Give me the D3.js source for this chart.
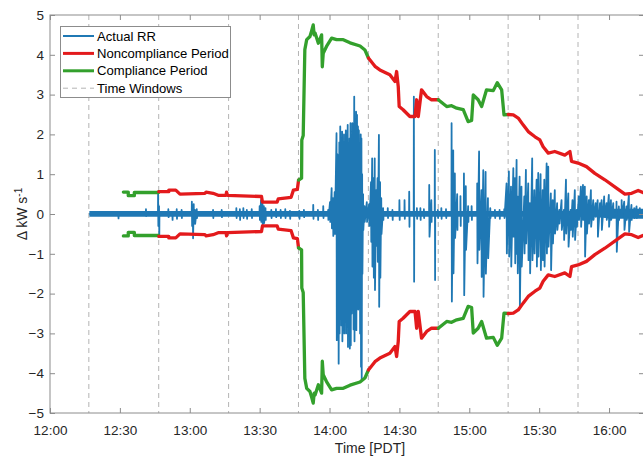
<!DOCTYPE html>
<html>
<head>
<meta charset="utf-8">
<script src="https://cdn.jsdelivr.net/npm/d3@7"></script>
<style>
  body { margin: 0; background: #fff; }
  text { font-family: "Liberation Sans", Arial, Helvetica, sans-serif; }
</style>
</head>
<body>
<svg id="chart" width="643" height="457"></svg>
<script>
// all times are minutes after 12:00 PDT

// time windows (30 min each) and whether the window was compliant
var windowStarts = [16.67, 46.67, 76.67, 106.67, 136.67, 166.67, 196.67, 226.67, 256.67];
var windowStatus = ["C", "N", "N", "C", "N", "C", "N", "N"];

// upper ramp-rate envelope [minute, kW/s]; lower envelope is its mirror
var upperEnvelope = [
  [31.5, 0.55], [33.6, 0.55], [33.6, 0.46], [36.2, 0.46], [36.2, 0.54], [46.6, 0.54],
  [46.7, 0.56], [51, 0.56], [51, 0.6], [54, 0.6], [55.8, 0.5], [66.5, 0.52], [67, 0.55],
  [70, 0.52], [72.2, 0.47], [75.6, 0.47], [75.8, 0.55], [76.2, 0.47], [90.8, 0.44],
  [91.2, 0.3], [97.5, 0.3], [98, 0.38], [103.5, 0.42], [104.5, 0.6], [106.2, 0.62],
  [106.7, 0.85], [108.0, 0.9], [108.1, 1.86], [108.7, 1.97], [109.4, 4.13], [110.2, 4.38],
  [111.6, 4.46], [112.3, 4.6], [113.0, 4.75], [113.4, 4.5], [113.8, 4.55], [115.2, 4.29],
  [116.6, 4.5], [116.9, 3.7], [117.3, 4.04], [118.7, 4.21], [120.9, 4.42], [123, 4.38],
  [125.9, 4.38], [128.8, 4.3], [133.1, 4.22], [135.2, 4.12], [136.7, 3.92], [139.5, 3.71],
  [141.6, 3.62], [145.9, 3.5], [148.1, 3.33], [148.8, 3.58], [149.5, 3.2], [149.9, 2.7],
  [151.6, 2.62], [154.5, 2.45], [156.7, 2.45], [157.4, 2.87], [158.1, 2.45], [159.5, 3.12],
  [161.7, 2.95], [163.8, 2.87], [166.7, 2.87], [170.3, 2.7], [172.4, 2.72], [174.6, 2.66],
  [177.4, 2.62], [179.5, 2.32], [181.0, 2.35], [181.7, 2.99], [183.8, 2.87], [185.3, 2.7],
  [187.4, 3.12], [190.3, 3.1], [192.0, 3.3], [193.9, 3.12], [194.9, 2.49], [196.7, 2.5],
  [198.9, 2.49], [201.0, 2.41], [203.1, 2.24], [205.3, 2.07], [208.2, 1.94], [210.3, 1.86],
  [211.7, 1.69], [213.9, 1.53], [216.7, 1.57], [221.0, 1.48], [223.2, 1.57], [223.9, 1.32],
  [226.7, 1.28], [230.3, 1.19], [233.9, 1.02], [238.2, 0.86], [243.2, 0.65], [246.8, 0.5],
  [249.7, 0.52], [252.5, 0.59], [254.5, 0.54]
];

// actual ramp rate: spikes [minute, high, low]
var rrSpikes = [
  [29.3, 0.05, -0.11], [41.2, 0.12, -0.05], [46.4, 0.53, -0.3], [46.8, 0.2, -0.55],
  [50.8, 0.12, -0.08], [52.5, 0.05, -0.15], [54.4, 0.12, -0.12], [56.5, 0.1, -0.1],
  [60.9, 0.31, -0.3], [61.3, 0.2, -0.61], [61.7, 0.25, -0.2], [62.2, 0.1, -0.25],
  [63.0, 0.12, -0.1], [70.0, 0.1, -0.1], [73.7, 0.1, -0.08], [80.0, 0.15, -0.1],
  [81.5, 0.12, -0.15], [83.0, 0.15, -0.1], [84.5, 0.1, -0.12], [86.6, 0.12, -0.1],
  [90.0, 0.2, -0.15], [90.6, 0.35, -0.2], [91.2, 0.27, -0.3], [91.8, 0.2, -0.23],
  [92.5, 0.15, -0.15], [95.0, 0.1, -0.1], [97.0, 0.12, -0.08], [99.0, 0.1, -0.1],
  [101.0, 0.12, -0.1], [103.0, 0.08, -0.12], [107.0, 0.08, -0.12], [109.0, 0.1, -0.08],
  [113.0, 0.23, -0.12], [115.0, 0.1, -0.15], [117.3, 0.2, -0.1], [119.4, 0.1, -0.15],
  [120.2, 0.3, -0.2], [120.9, 0.65, -0.36], [121.5, 0.4, -0.55], [122.2, 0.55, -0.5],
  [123.0, 2.03, -3.17], [123.4, 1.5, -2.5], [123.8, 1.36, -3.76], [124.2, 1.8, -3.0],
  [124.6, 2.2, -2.0], [125.0, 1.9, -2.8], [125.4, 2.07, -3.2], [125.8, 1.7, -2.4],
  [126.2, 2.0, -3.0], [126.6, 1.6, -2.6], [127.0, 2.1, -3.0], [127.4, 1.5, -2.2],
  [127.8, 2.24, -3.34], [128.2, 1.78, -2.8], [128.6, 1.9, -3.38], [129.0, 2.28, -3.3],
  [129.4, 1.6, -2.5], [129.8, 2.28, -2.42], [130.2, 1.9, -2.9], [130.6, 2.95, -3.2],
  [131.0, 2.0, -2.4], [131.4, 2.57, -2.92], [131.8, 2.49, -2.0], [132.2, 2.2, -2.4],
  [132.6, 2.1, -1.83], [133.0, 1.7, -3.0], [133.4, 2.0, -3.84], [133.7, 1.9, -4.18],
  [134.0, 1.0, -1.5], [134.4, 0.5, -0.4], [135.0, 0.2, -0.2], [136.0, 0.3, -0.2],
  [137.0, 0.25, -0.3], [137.8, 0.8, -0.7], [138.3, 1.4, -1.32], [138.9, 0.9, -1.6],
  [139.4, 1.4, -1.91], [140.0, 0.6, -0.8], [140.6, 0.9, -1.2], [141.2, 1.99, -2.33],
  [141.7, 0.8, -1.6], [142.2, 0.4, -0.5], [143.0, 0.15, -0.15], [145.0, 0.15, -0.1],
  [147.0, 0.1, -0.15], [150.0, 0.35, -0.15], [152.2, 0.35, -0.12], [154.2, 0.56, -0.32],
  [156.2, 2.95, -1.7], [157.5, 0.15, -0.12], [159.0, 0.15, -0.15], [160.5, 0.12, -0.1],
  [162.8, 0.73, -0.57], [163.7, 0.35, -0.2], [165.2, 1.61, -1.66], [166.5, 0.1, -0.1],
  [168.0, 0.15, -0.12], [170.0, 0.12, -0.1], [172.4, 2.28, -2.2], [173.1, 1.6, -1.49],
  [173.8, 1.02, -0.6], [174.8, 0.5, -0.4], [176.2, 0.45, -0.3], [177.7, 1.02, -2.04],
  [178.5, 0.7, -0.9], [179.5, 0.2, -0.2], [181.0, 0.2, -0.15], [183.4, 0.77, -1.24],
  [184.2, 1.57, -0.9], [185.2, 0.6, -1.58], [186.0, 1.1, -2.08], [187.0, 1.06, -1.5],
  [188.0, 0.4, -1.11], [189.0, 0.15, -0.1], [191.0, 0.1, -0.1], [193.0, 0.1, -0.12],
  [195.0, 0.12, -0.1],
  [196.0, 0.77, -0.99], [197.0, 1.07, -1.07], [197.9, 0.69, -1.32], [198.9, 1.15, -0.57],
  [199.6, 0.9, -1.24], [200.3, 1.36, -1.0], [200.7, 0.44, -1.49], [201.6, 0.94, -2.37],
  [202.4, 0.69, -1.32], [203.6, 0.44, -0.99], [204.3, 1.11, -0.74], [205.3, 0.77, -1.16],
  [206.0, 0.27, -1.49], [207.0, 1.4, -1.16], [207.9, 0.6, -0.99], [208.9, 0.86, -1.32],
  [209.6, 1.03, -1.07], [210.6, 1.0, -1.41], [211.5, 0.6, -1.16], [212.2, 0.86, -1.32],
  [213.2, 1.27, -0.99], [213.9, 1.19, -0.82], [215.0, 0.52, -1.41], [215.8, 0.35, -0.74],
  [216.7, 0.6, -0.49], [217.7, 0.27, -0.4], [218.6, 0.1, -0.24], [219.6, 0.35, -0.4],
  [220.6, 0.1, -0.65], [221.5, 0.86, -0.49], [222.5, 0.52, -0.82], [223.5, 0.1, -0.4],
  [224.3, 0.35, -0.57], [225.3, 0.6, -0.65], [226.1, 0.1, -0.32], [227.0, 0.44, -0.15],
  [227.9, 0.69, -0.32], [228.8, 0.73, -0.15], [229.6, 0.69, -1.07], [230.4, 0.44, -0.49],
  [231.3, 0.35, -0.24], [232.2, 0.6, -0.32], [233.2, 0.35, -0.15], [234.2, 0.27, -0.07],
  [235.1, 0.35, -0.57], [236.1, 0.27, -0.07], [236.8, 0.35, -0.4], [237.9, 0.44, -0.07],
  [238.9, 0.27, -0.15], [239.9, 0.48, -0.32], [240.8, 0.35, -0.15], [241.8, 0.27, -0.07],
  [243.2, 0.31, -0.95], [244.2, 0.19, -0.15], [245.4, 0.35, -0.07], [246.5, 0.31, -0.4],
  [247.5, 0.19, -0.15], [248.5, 0.48, -0.45], [249.6, 0.23, -0.15], [250.8, 0.15, -0.1],
  [251.8, 0.19, -0.1], [253.2, 0.15, -0.07], [254.5, 0.1, -0.07]
];

// background noise band of the actual RR trace [minute, half width]
var rrNoise = [[16.9, 0.07], [236, 0.07], [240, 0.12], [255, 0.12]];

var yTicks = [-5, -4, -3, -2, -1, 0, 1, 2, 3, 4, 5];

var colBlue = "#1f78b4", colRed = "#e31a1c", colGreen = "#33a02c";
var axisGrey = "#8c8c8c", textGrey = "#262626";

var noon = new Date(2019, 6, 1, 12, 0, 0);
function T(m) { return new Date(noon.getTime() + m * 60000); }

var margin = { left: 50, right: 644, top: 15, bottom: 413 };

var x = d3.scaleTime().domain([T(0), T(255)]).range([margin.left, margin.right]);
var y = d3.scaleLinear().domain([-5, 5]).range([margin.bottom, margin.top]);

var svg = d3.select("#chart");

svg.append("clipPath").attr("id", "clip")
  .append("rect")
  .attr("x", margin.left).attr("y", margin.top)
  .attr("width", margin.right - margin.left).attr("height", margin.bottom - margin.top);

var plot = svg.append("g").attr("clip-path", "url(#clip)");

// time window boundaries
plot.selectAll(".win").data(windowStarts).enter().append("line")
  .attr("x1", function(d) { return x(T(d)); })
  .attr("x2", function(d) { return x(T(d)); })
  .attr("y1", margin.top).attr("y2", margin.bottom)
  .style("stroke", "#b4b4b4").style("stroke-width", 1)
  .style("stroke-dasharray", "5,4");

// noise band
var band = d3.area()
  .x(function(d) { return x(T(d[0])); })
  .y0(function(d) { return y(-d[1]); })
  .y1(function(d) { return y(d[1] * 1.1); });
plot.append("path").datum(rrNoise).attr("d", band).style("fill", colBlue);

// actual RR trace: back to zero only between isolated spikes
var rrPoints = [[16.9, 0]];
rrSpikes.forEach(function(s, i) {
  var prev = rrSpikes[i - 1], next = rrSpikes[i + 1];
  if (!prev || s[0] - prev[0] > 1.2) rrPoints.push([s[0] - 0.06, 0]);
  rrPoints.push([s[0], s[1]], [s[0] + 0.12, s[2]]);
  if (!next || next[0] - s[0] > 1.2) rrPoints.push([s[0] + 0.18, 0]);
});
var line = d3.line()
  .x(function(d) { return x(T(d[0])); })
  .y(function(d) { return y(d[1]); });
plot.append("path").datum(rrPoints).attr("d", line)
  .style("fill", "none").style("stroke", colBlue).style("stroke-width", 1.8)
  .style("stroke-linejoin", "round");

// envelopes coloured by window status
function windowOf(m) {
  for (var i = 0; i < windowStatus.length; i++) {
    if (m >= windowStarts[i] && m < windowStarts[i + 1]) return windowStatus[i];
  }
  return "N";
}
function pieces(pts) {
  var out = [], cur = null;
  for (var i = 0; i < pts.length - 1; i++) {
    var st = windowOf((pts[i][0] + pts[i + 1][0]) / 2);
    if (!cur || cur.st != st) {
      cur = { st: st, pts: [pts[i]] };
      out.push(cur);
    }
    cur.pts.push(pts[i + 1]);
  }
  return out;
}
var lowerEnvelope = upperEnvelope.map(function(d) { return [d[0], -d[1]]; });
[upperEnvelope, lowerEnvelope].forEach(function(env) {
  pieces(env).forEach(function(p) {
    plot.append("path").datum(p.pts).attr("d", line)
      .style("fill", "none")
      .style("stroke", p.st == "C" ? colGreen : colRed)
      .style("stroke-width", 3.3)
      .style("stroke-linejoin", "round").style("stroke-linecap", "round");
  });
});

// axes
var fmt = d3.timeFormat("%H:%M");
var xTicks = d3.timeMinute.every(30).range(T(0), T(255));
function styleAxis(g) {
  g.select(".domain").remove();
  g.selectAll("line").style("stroke", axisGrey);
  g.selectAll("text").style("fill", textGrey).style("font-size", "13.5px")
    .style("font-family", "'Liberation Sans', Arial, sans-serif");
}
svg.append("g").attr("transform", "translate(0," + margin.bottom + ")")
  .call(d3.axisBottom(x).tickValues(xTicks).tickFormat(fmt).tickSize(-5).tickPadding(12))
  .call(styleAxis);
svg.append("g").attr("transform", "translate(0," + margin.top + ")")
  .call(d3.axisTop(x).tickValues(xTicks).tickFormat("").tickSize(-5))
  .call(styleAxis);
svg.append("g").attr("transform", "translate(" + margin.left + ",0)")
  .call(d3.axisLeft(y).tickValues(yTicks).tickSize(-5).tickPadding(6))
  .call(styleAxis);
svg.append("g").attr("transform", "translate(" + margin.right + ",0)")
  .call(d3.axisRight(y).tickValues(yTicks).tickFormat("").tickSize(-5))
  .call(styleAxis);

svg.append("rect")
  .attr("x", margin.left).attr("y", margin.top)
  .attr("width", margin.right - margin.left).attr("height", margin.bottom - margin.top)
  .style("fill", "none").style("stroke", axisGrey).style("stroke-width", 1);

// axis labels
svg.append("text").attr("x", 370).attr("y", 453)
  .attr("text-anchor", "middle").style("font-size", "14px").style("fill", textGrey)
  .text("Time [PDT]");

var yl = svg.append("text")
  .attr("transform", "translate(27,214) rotate(-90)")
  .attr("text-anchor", "middle").style("font-size", "14px").style("fill", textGrey);
yl.append("tspan").text("Δ kW s");
yl.append("tspan").attr("dy", "-0.5em").style("font-size", "10px").text("-1");

// legend
var legendItems = [
  { label: "Actual RR", color: colBlue, width: 2, dash: null },
  { label: "Noncompliance Period", color: colRed, width: 3, dash: null },
  { label: "Compliance Period", color: colGreen, width: 3, dash: null },
  { label: "Time Windows", color: "#b4b4b4", width: 1, dash: "5,4" }
];
var lg = svg.append("g");
lg.append("rect").attr("x", 60.5).attr("y", 26.5).attr("width", 170).attr("height", 71)
  .style("fill", "#fff").style("stroke", axisGrey).style("stroke-width", 1);
legendItems.forEach(function(d, i) {
  var yy = 36 + i * 17.4;
  lg.append("line").attr("x1", 63).attr("x2", 94).attr("y1", yy).attr("y2", yy)
    .style("stroke", d.color).style("stroke-width", d.width)
    .style("stroke-dasharray", d.dash);
  lg.append("text").attr("x", 97).attr("y", yy + 4.5)
    .style("font-size", "13.1px").style("fill", "#000").text(d.label);
});
</script>
</body>
</html>
